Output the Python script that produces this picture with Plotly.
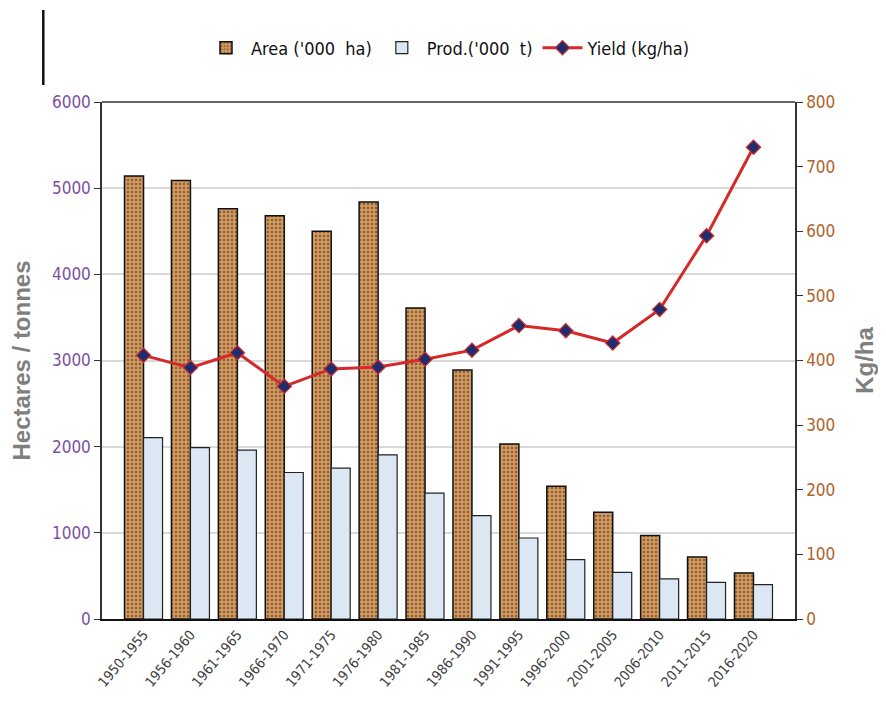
import plotly.graph_objects as go

periods = ["1950-1955", "1956-1960", "1961-1965", "1966-1970", "1971-1975", "1976-1980",
           "1981-1985", "1986-1990", "1991-1995", "1996-2000", "2001-2005", "2006-2010",
           "2011-2015", "2016-2020"]
area = [5140, 5090, 4760, 4680, 4500, 4840, 3610, 2890, 2030, 1540, 1240, 970, 720, 535]
prod = [2105, 1990, 1960, 1700, 1750, 1905, 1460, 1200, 940, 690, 540, 465, 425, 400]
yield_kg = [408, 389, 412, 360, 387, 390, 402, 416, 454, 446, 427, 479, 593, 730]

narrow = "DejaVu Sans Condensed, Liberation Sans Narrow, sans-serif"
sans = "Liberation Sans, Arial, sans-serif"

# page body has an 8px margin; size the figure so it fits the 886x724 window
W, H = 878, 708
L, R, T, B = 85, 73, 94, 97
pw = W - L - R
ph = H - T - B

fig = go.Figure()
fig.add_trace(go.Bar(
    x=periods, y=area, name="Area ('000  ha)",
    marker=dict(color="#c48a52", line=dict(color="#111111", width=1.5),
                pattern=dict(shape=".", fgcolor="#8f5f32", bgcolor="#d09a62",
                             size=4, solidity=0.3, fillmode="replace")),
))
fig.add_trace(go.Bar(
    x=periods, y=prod, name="Prod.('000  t)",
    marker=dict(color="#dbe8f4", line=dict(color="#222222", width=1.2)),
))
fig.add_trace(go.Scatter(
    x=periods, y=yield_kg, name="Yield (kg/ha)", yaxis="y2",
    mode="lines+markers",
    line=dict(color="#d42a2a", width=3),
    marker=dict(symbol="diamond", size=11, color="#1f2d6e", line=dict(color="#d42a2a", width=1.2)),
))

fig.update_layout(
    width=W, height=H,
    margin=dict(l=L, r=R, t=T, b=B),
    paper_bgcolor="white", plot_bgcolor="white",
    barmode="group", bargap=0.19, bargroupgap=0,
    showlegend=True,
    legend=dict(orientation="h", x=0.5, xanchor="center", y=(ph + T - 40) / ph, yanchor="middle",
                font=dict(family=narrow, size=18, color="#111111"),
                itemwidth=40, traceorder="normal"),
    xaxis=dict(
        tickangle=-50, tickfont=dict(family=narrow, size=14, color="#404040"),
        showline=True, linecolor="#111111", linewidth=2, mirror=False,
        showgrid=False, ticks="",
    ),
    yaxis=dict(
        range=[0, 6000], dtick=1000, tickfont=dict(family=narrow, size=17, color="#7b4fa0"),
        showline=True, linecolor="#333333", linewidth=1.5, ticks="outside", ticklen=6,
        tickcolor="#333333", gridcolor="#d9d9d9", gridwidth=1.5, zeroline=False,
        title=dict(text="<b>Hectares / tonnes</b>", font=dict(family=sans, size=24, color="#7f7f7f"), standoff=15),
    ),
    yaxis2=dict(
        range=[0, 800], dtick=100, overlaying="y", side="right",
        tickfont=dict(family=narrow, size=17, color="#b0622a"),
        showline=True, linecolor="#333333", linewidth=1.5, ticks="outside", ticklen=6,
        tickcolor="#333333", showgrid=False, zeroline=False,
        title=dict(text="<b>Kg/ha</b>", font=dict(family=sans, size=24, color="#7f7f7f"), standoff=22),
    ),
    shapes=[
        dict(type="line", xref="paper", yref="paper", x0=(24 - L) / pw, x1=(24 - L) / pw,
             y0=(ph + T - 2) / ph, y1=(ph + T - 77) / ph, line=dict(color="#111111", width=2.5)),
        dict(type="line", xref="paper", yref="paper", x0=0, x1=1, y0=1, y1=1,
             line=dict(color="#333333", width=1.5)),
    ],
)

fig.write_html("out.html")
